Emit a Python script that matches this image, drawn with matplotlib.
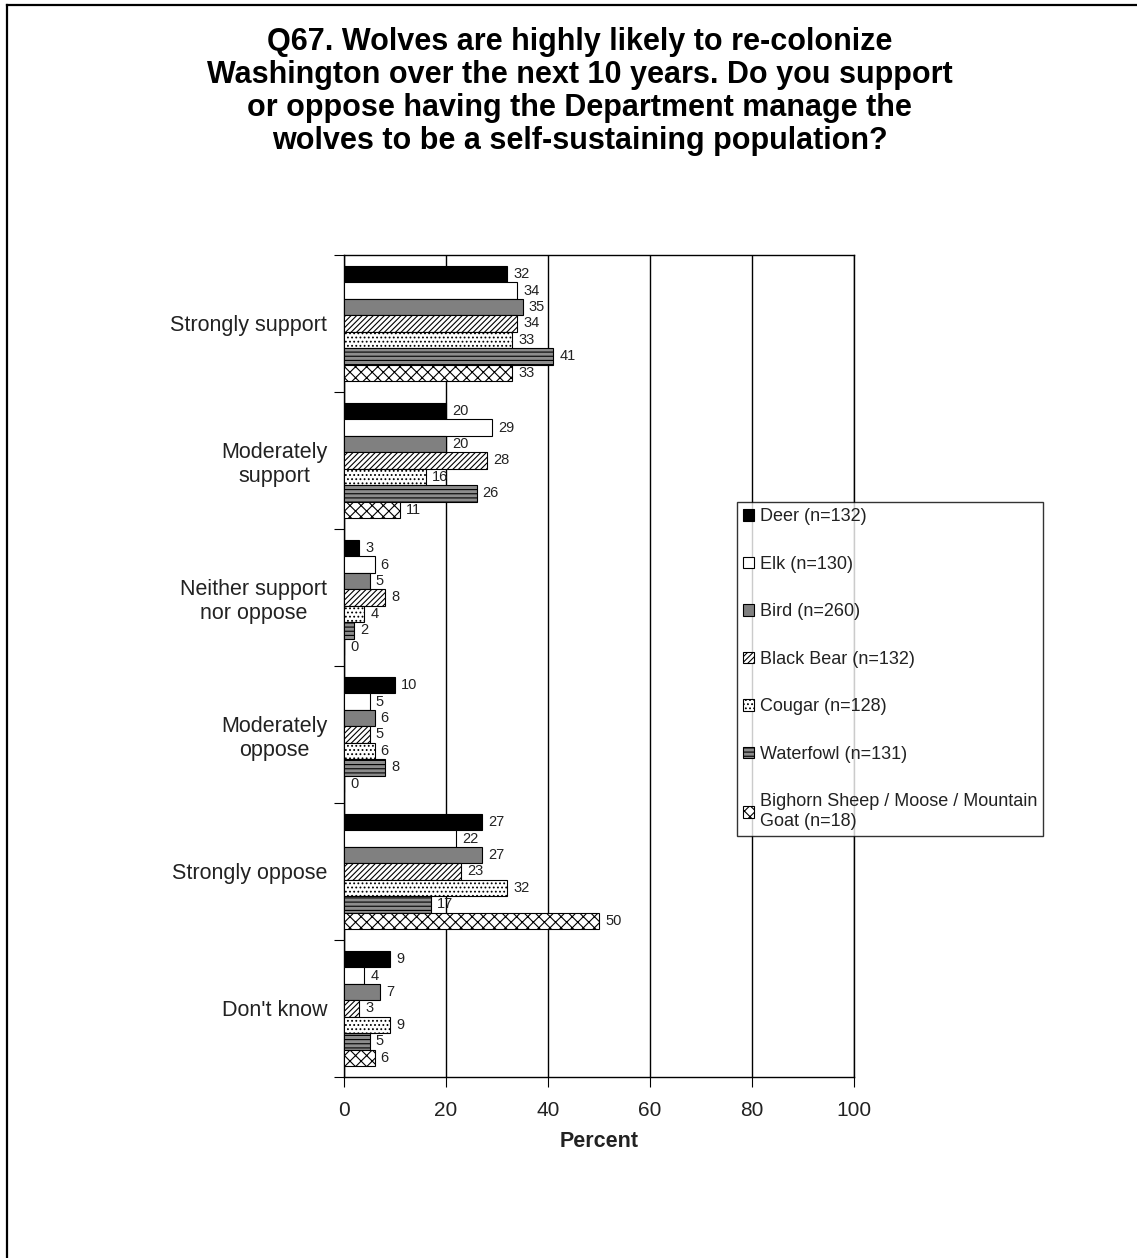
import matplotlib.pyplot as plt
from matplotlib.lines import Line2D
import numpy as np

plt.rcParams['font.family'] = ['Liberation Sans', 'DejaVu Sans']
plt.rcParams['hatch.linewidth'] = 0.8

categories = ["Strongly support", "Moderately\nsupport", "Neither support\nnor oppose",
              "Moderately\noppose", "Strongly oppose", "Don't know"]
series = ["Deer (n=132)", "Elk (n=130)", "Bird (n=260)", "Black Bear (n=132)",
          "Cougar (n=128)", "Waterfowl (n=131)", "Bighorn Sheep / Moose / Mountain\nGoat (n=18)"]

deer = [32, 20, 3, 10, 27, 9]
elk = [34, 29, 6, 5, 22, 4]
bird = [35, 20, 5, 6, 27, 7]
black_bear = [34, 28, 8, 5, 23, 3]
cougar = [33, 16, 4, 6, 32, 9]
waterfowl = [41, 26, 2, 8, 17, 5]
bighorn = [33, 11, 0, 0, 50, 6]

values = [deer, elk, bird, black_bear, cougar, waterfowl, bighorn]
faces = ['black', 'white', '#808080', 'white', 'white', '#8c8c8c', 'white']
hatches = [None, None, None, '//////', '....', '----', 'xxx']

W, H = 1137, 1258
fig = plt.figure(figsize=(W / 100, H / 100), dpi=100)
ax = fig.add_axes([344 / W, 1 - 1077 / H, 510 / W, 822 / H])

txt = '#222222'
bh = 0.12
ypos = np.arange(len(categories))
for j, (vals, fc, ht, lab) in enumerate(zip(values, faces, hatches, series)):
    y = ypos + 0.08 + bh * (j + 0.5)
    bars = ax.barh(y, vals, height=bh, color=fc, edgecolor='black', linewidth=0.8,
                   hatch=ht, label=lab, zorder=3)
    for b, v in zip(bars, vals):
        ax.text(b.get_width() + 1.2, b.get_y() + bh / 2, str(v), va='center', ha='left',
                fontsize=10.5, color=txt, zorder=4)

ax.set_xlim(0, 100)
ax.set_ylim(6, 0)
ax.set_xticks([0, 20, 40, 60, 80, 100])
ax.tick_params(axis='x', labelsize=15, labelcolor=txt, length=7, direction='out', pad=10)
ax.set_yticks(np.arange(7))
ax.set_yticklabels([])
ax.set_yticks(ypos + 0.5, minor=True)
ax.set_yticklabels(categories, minor=True, fontsize=15.5, color=txt, multialignment='center')
ax.tick_params(axis='y', which='major', length=7, direction='out')
ax.tick_params(axis='y', which='minor', length=0, pad=12)
ax.grid(axis='x', color='black', linewidth=1, zorder=0)
for s in ax.spines.values():
    s.set_linewidth(1)
ax.set_xlabel('Percent', fontsize=15.5, fontweight='bold', color=txt, labelpad=8)

leg = fig.legend(loc='upper left', bbox_to_anchor=(737 / W, 1 - 502 / H), fontsize=13,
                 frameon=True, fancybox=False, edgecolor='black', handlelength=0.6,
                 handleheight=0.6, handletextpad=0.3, labelspacing=1.69,
                 borderpad=0.35, borderaxespad=0)
leg.get_frame().set_linewidth(1)
for t in leg.get_texts():
    t.set_color(txt)

fig.text(0.51, 1 - 27 / H,
         "Q67. Wolves are highly likely to re-colonize\n"
         "Washington over the next 10 years. Do you support\n"
         "or oppose having the Department manage the\n"
         "wolves to be a self-sustaining population?",
         ha='center', va='top', fontsize=22, fontweight='bold', linespacing=1.13)

fig.add_artist(Line2D([7 / W, 7 / W], [0, 1 - 5 / H], color='black', linewidth=1.6))
fig.add_artist(Line2D([7 / W, 1], [1 - 5 / H, 1 - 5 / H], color='black', linewidth=1.6))

fig.savefig('out.png', dpi=100)
